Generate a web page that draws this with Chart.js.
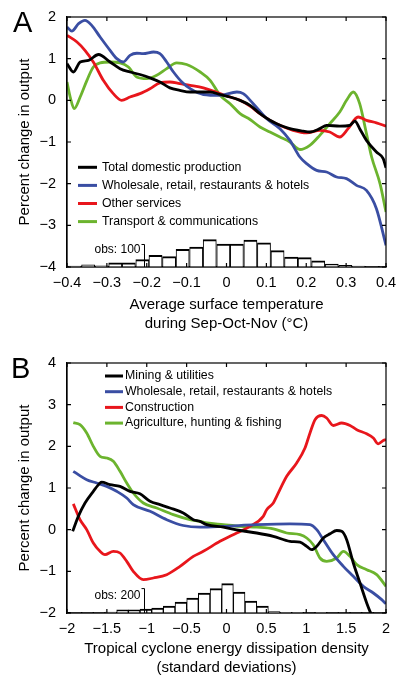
<!DOCTYPE html>
<html><head><meta charset="utf-8">
<script src="https://cdn.jsdelivr.net/npm/chart.js@4.4.1/dist/chart.umd.min.js"></script>
<style>
html,body{margin:0;padding:0;background:#fff;}
#wrap{position:relative;width:396px;height:680px;overflow:hidden;font-family:"Liberation Sans",Arial,Helvetica,sans-serif;}
canvas{position:absolute;left:0;}
#cA{top:0;} #cB{top:340px;}
.lbl{position:absolute;font-size:29px;line-height:29px;color:#000;}
</style></head><body>
<div id="wrap">
<canvas id="cA" width="396" height="340"></canvas>
<canvas id="cB" width="396" height="340"></canvas>
<div class="lbl" style="left:13px;top:8px">A</div>
<div class="lbl" style="left:11px;top:354px">B</div>
</div>
<script>
// ---------------- Panel A data (x: temperature anomaly, °C; y: % change) ----------------
const A_TOTAL_X = [-0.4,-0.384,-0.367,-0.346,-0.321,-0.292,-0.267,-0.242,-0.217,-0.192,-0.167,-0.142,-0.117,-0.091,-0.066,-0.041,-0.016,0.009,0.034,0.059,0.084,0.109,0.126,0.159,0.192,0.209,0.234,0.251,0.284,0.309,0.322,0.334,0.351,0.376,0.393,0.4];
const A_TOTAL_Y = [0.88,0.68,0.92,0.96,1.10,0.92,0.76,0.68,0.62,0.54,0.44,0.30,0.24,0.20,0.20,0.20,0.14,0.08,0.0,-0.12,-0.32,-0.48,-0.56,-0.68,-0.74,-0.76,-0.68,-0.60,-0.62,-0.60,-0.50,-0.68,-0.96,-1.24,-1.40,-1.62];

const A_WHOLE_X = [-0.4,-0.388,-0.371,-0.355,-0.338,-0.317,-0.292,-0.275,-0.259,-0.242,-0.225,-0.209,-0.183,-0.167,-0.150,-0.133,-0.112,-0.091,-0.058,-0.016,0.026,0.042,0.067,0.101,0.134,0.159,0.184,0.201,0.226,0.251,0.276,0.301,0.326,0.351,0.376,0.4];
const A_WHOLE_Y = [1.76,1.66,1.84,1.92,1.80,1.52,1.20,1.00,0.92,1.08,1.13,1.12,1.16,1.12,0.92,0.68,0.44,0.28,0.14,0.12,0.20,0.16,-0.08,-0.44,-0.68,-0.96,-1.36,-1.52,-1.68,-1.72,-1.84,-1.88,-2.04,-2.16,-2.60,-3.48];

const A_OTHER_X = [-0.4,-0.375,-0.355,-0.334,-0.309,-0.284,-0.263,-0.242,-0.217,-0.192,-0.167,-0.142,-0.117,-0.091,-0.058,-0.033,-0.016,0.009,0.034,0.059,0.084,0.109,0.134,0.167,0.201,0.234,0.259,0.284,0.305,0.330,0.351,0.376,0.4];
const A_OTHER_Y = [1.56,1.40,1.20,0.92,0.48,0.16,0.0,0.08,0.16,0.28,0.42,0.44,0.40,0.36,0.30,0.22,0.16,0.08,0.0,-0.14,-0.32,-0.48,-0.60,-0.72,-0.78,-0.72,-0.76,-0.88,-0.68,-0.40,-0.48,-0.54,-0.62];

const A_TRANS_X = [-0.4,-0.392,-0.382,-0.367,-0.350,-0.334,-0.317,-0.292,-0.267,-0.246,-0.225,-0.2,-0.175,-0.150,-0.125,-0.1,-0.066,-0.041,-0.016,0.009,0.034,0.059,0.084,0.109,0.134,0.159,0.184,0.209,0.234,0.259,0.284,0.301,0.318,0.334,0.351,0.364,0.385,0.4];
const A_TRANS_Y = [0.44,0.08,-0.20,0.08,0.48,0.80,0.90,0.92,0.90,0.80,0.56,0.52,0.60,0.76,0.90,0.86,0.68,0.48,0.12,-0.08,-0.32,-0.46,-0.64,-0.76,-0.88,-1.00,-1.18,-1.08,-0.84,-0.56,-0.28,0.0,0.20,-0.08,-0.80,-1.36,-2.00,-2.68];

// histogram of observations (bin centres, counts)
const A_HIST_X = [-0.381,-0.347,-0.313,-0.279,-0.245,-0.211,-0.178,-0.144,-0.110,-0.076,-0.042,-0.008,0.026,0.060,0.094,0.128,0.162,0.196,0.230,0.264,0.298,0.331,0.365,0.399];
const A_HIST_N = [4,10,5,18,18,33,52,46,78,89,122,102,102,120,107,73,44,42,27,13,7,4,2,2];
const A_OBS_X = -0.207, A_OBS_N = 100;

// ---------------- Panel B data (x: cyclone energy, s.d.; y: % change) ----------------
const B_MINING_X = [-1.929,-1.858,-1.774,-1.670,-1.586,-1.565,-1.461,-1.335,-1.210,-1.085,-0.959,-0.834,-0.708,-0.542,-0.416,-0.332,-0.248,-0.040,0.169,0.379,0.587,0.796,0.922,1.006,1.068,1.131,1.214,1.298,1.382,1.444,1.507,1.590,1.674,1.758,1.799,1.815];
const B_MINING_Y = [-0.04,0.32,0.64,0.92,1.12,1.14,1.08,1.04,0.92,0.86,0.68,0.60,0.52,0.40,0.24,0.20,0.12,0.06,-0.02,-0.08,-0.16,-0.28,-0.30,-0.40,-0.48,-0.40,-0.20,-0.10,-0.02,-0.04,-0.24,-0.80,-1.28,-1.76,-1.96,-2.02];

const B_WHOLE_X = [-1.921,-1.858,-1.753,-1.628,-1.502,-1.377,-1.251,-1.169,-0.959,-0.750,-0.542,-0.332,-0.040,0.379,0.796,1.047,1.131,1.214,1.339,1.465,1.590,1.715,1.841,1.946,2.0];
const B_WHOLE_Y = [1.40,1.32,1.20,1.12,1.04,0.92,0.76,0.60,0.44,0.24,0.10,0.06,0.08,0.12,0.14,0.12,0.0,-0.24,-0.60,-0.88,-1.12,-1.36,-1.52,-1.68,-1.78];

const B_CONSTR_X = [-1.921,-1.837,-1.753,-1.670,-1.586,-1.524,-1.419,-1.335,-1.251,-1.169,-1.043,-0.918,-0.750,-0.583,-0.416,-0.291,-0.082,0.128,0.295,0.461,0.504,0.587,0.629,0.755,0.880,0.984,1.047,1.110,1.194,1.256,1.339,1.444,1.549,1.633,1.758,1.841,1.903,1.966,2.0];
const B_CONSTR_Y = [0.62,0.24,0.0,-0.32,-0.52,-0.60,-0.52,-0.56,-0.76,-1.00,-1.20,-1.16,-1.08,-0.88,-0.64,-0.52,-0.28,-0.08,0.08,0.32,0.48,0.64,0.80,1.28,1.60,1.96,2.32,2.64,2.74,2.68,2.50,2.56,2.50,2.40,2.30,2.20,2.06,2.14,2.16];

const B_AGRI_X = [-1.921,-1.837,-1.753,-1.670,-1.586,-1.502,-1.419,-1.335,-1.251,-1.169,-1.043,-0.875,-0.667,-0.458,-0.332,-0.248,-0.040,0.169,0.379,0.587,0.755,0.922,1.006,1.088,1.172,1.256,1.382,1.465,1.549,1.633,1.758,1.883,2.0];
const B_AGRI_Y = [2.57,2.52,2.32,2.00,1.76,1.72,1.64,1.40,1.12,0.88,0.64,0.52,0.36,0.24,0.20,0.16,0.12,0.08,0.06,0.02,-0.08,-0.12,-0.20,-0.36,-0.68,-0.76,-0.68,-0.52,-0.64,-0.84,-0.96,-1.08,-1.36];

const B_HIST_X = [-1.889,-1.743,-1.597,-1.450,-1.304,-1.158,-1.011,-0.865,-0.719,-0.572,-0.426,-0.280,-0.133,0.013,0.159,0.306,0.452,0.598,0.745,0.891,1.037,1.184,1.330,1.476,1.623,1.769,1.915];
const B_HIST_N = [4,4,4,8,25,25,33,41,57,90,123,164,200,241,172,98,57,12,6,5,4,6,4,4,3,3,3];
const B_OBS_X = -1.034, B_OBS_N = 200;

const LABELS_A = ['Total domestic production','Wholesale, retail, restaurants & hotels','Other services','Transport & communications'];
const LABELS_B = ['Mining & utilities','Wholesale, retail, restaurants & hotels','Construction','Agriculture, hunting & fishing'];
const X_TITLE_A = ['Average surface temperature','during Sep-Oct-Nov (\u00B0C)'];
const X_TITLE_B = ['Tropical cyclone energy dissipation density','(standard deviations)'];
const Y_TITLE = 'Percent change in output';

// ---------------- drawing ----------------
const FONT = '"Liberation Sans", Arial, Helvetica, sans-serif';
const COL = {black:'#000000', blue:'#3a4ea3', red:'#e8161c', green:'#6cb42e'};
const pts = (xs, ys) => xs.map((x, i) => ({x: x, y: ys[i]}));
const fmt = v => {
  if (Math.abs(v) < 1e-9) return '0';
  const a = Math.abs(v);
  const s = (Math.abs(a - Math.round(a)) < 1e-9) ? String(Math.round(a)) : a.toFixed(1);
  return (v < 0 ? '\u2212' : '') + s;
};

const framePlugin = {
  id: 'frameTicks',
  afterDatasetsDraw(chart) {
    const {ctx, chartArea: {left, right, top, bottom}, scales: {x, y}} = chart;
    ctx.save();
    ctx.strokeStyle = '#000'; ctx.lineWidth = 1.2;
    ctx.strokeRect(left, top, right - left, bottom - top);
    const L = 4;
    ctx.beginPath();
    x.ticks.forEach(t => { const p = x.getPixelForValue(t.value); ctx.moveTo(p, bottom); ctx.lineTo(p, bottom - L); ctx.moveTo(p, top); ctx.lineTo(p, top + L); });
    y.ticks.forEach(t => { const p = y.getPixelForValue(t.value); ctx.moveTo(left, p); ctx.lineTo(left + L, p); ctx.moveTo(right, p); ctx.lineTo(right - L, p); });
    ctx.stroke();
    ctx.restore();
  }
};

const obsPlugin = {
  id: 'obsBar',
  afterDatasetsDraw(chart, args, o) {
    const {ctx} = chart; const xs = chart.scales.x, hs = chart.scales.yh;
    const px = Math.round(xs.getPixelForValue(o.x)) + 0.5;
    const y0 = hs.getPixelForValue(0), y1 = hs.getPixelForValue(o.count);
    ctx.save();
    ctx.strokeStyle = '#000'; ctx.lineWidth = 1;
    ctx.beginPath(); ctx.moveTo(px, y0); ctx.lineTo(px, y1); ctx.lineTo(px - 3, y1); ctx.stroke();
    ctx.fillStyle = '#000'; ctx.font = '12px ' + FONT; ctx.textAlign = 'right'; ctx.textBaseline = 'middle';
    ctx.fillText('obs: ' + o.count, px - 4, y1 + o.dy);
    ctx.restore();
  }
};

const legendPlugin = {
  id: 'insideLegend',
  afterDraw(chart, args, o) {
    const {ctx, chartArea} = chart;
    const ds = chart.data.datasets.filter(d => d.inLegend);
    ctx.save();
    ctx.font = o.size + 'px ' + FONT;
    ctx.textBaseline = 'middle'; ctx.textAlign = 'left'; ctx.fillStyle = '#000';
    ds.forEach((d, i) => {
      const y = chartArea.top + o.top + i * o.step;
      const x0 = chartArea.left + o.left;
      ctx.strokeStyle = d.borderColor; ctx.lineWidth = 3; ctx.lineCap = 'butt';
      ctx.beginPath(); ctx.moveTo(x0, y); ctx.lineTo(x0 + o.len, y); ctx.stroke();
      ctx.fillText(d.label, x0 + o.len + o.gap, y);
    });
    ctx.restore();
  }
};

function lineDs(label, data, color) {
  return {type: 'line', label: label, data: data, borderColor: color, backgroundColor: color,
    borderWidth: 2.8, pointRadius: 0, fill: false, cubicInterpolationMode: 'monotone',
    yAxisID: 'y', order: 1, inLegend: true};
}
function histDs(data) {
  return {type: 'bar', label: 'obs', data: data, yAxisID: 'yh', backgroundColor: '#ffffff',
    borderColor: '#000000', borderWidth: {top: 2, left: 1, right: 1, bottom: 0}, borderSkipped: false,
    barPercentage: 1, categoryPercentage: 1, order: 10, inLegend: false};
}

function makeChart(id, cfg) {
  return new Chart(document.getElementById(id), {
    type: 'line',
    data: {datasets: cfg.datasets},
    options: {
      responsive: false, animation: false, devicePixelRatio: 1,
      layout: {padding: {left: 0, right: 10, top: cfg.padTop, bottom: 0}},
      plugins: {
        legend: {display: false}, tooltip: {enabled: false},
        insideLegend: cfg.legend,
        obsBar: cfg.obs
      },
      scales: {
        x: {type: 'linear', min: cfg.xmin, max: cfg.xmax, offset: false,
          grid: {display: false, drawTicks: false}, border: {display: true, color: '#000', width: 1.2},
          ticks: {stepSize: cfg.xstep, padding: 7, color: '#000', font: {family: FONT, size: 14.5}, maxRotation: 0, autoSkip: false, callback: v => fmt(v)},
          title: {display: true, text: cfg.xtitle, color: '#000', font: {family: FONT, size: 15, lineHeight: 1.25}, padding: {top: 0, bottom: cfg.xtPad}},
          afterFit(s) { s.height = cfg.xh; s.paddingLeft = 0; s.paddingRight = 0; }
        },
        y: {type: 'linear', min: cfg.ymin, max: cfg.ymax,
          grid: {display: false, drawTicks: false}, border: {display: true, color: '#000', width: 1.2},
          ticks: {stepSize: 1, padding: 11, color: '#000', font: {family: FONT, size: 14.5}, callback: v => fmt(v)},
          title: {display: true, text: Y_TITLE, color: '#000', font: {family: FONT, size: 15, lineHeight: 1.25}, padding: {top: 15, bottom: 0}},
          afterFit(s) { s.width = 67; s.paddingTop = 0; s.paddingBottom = 0; }
        },
        yh: {type: 'linear', display: false, min: 0, max: cfg.hmax}
      }
    },
    plugins: [framePlugin, obsPlugin, legendPlugin]
  });
}

makeChart('cA', {
  datasets: [
    lineDs(LABELS_A[0], pts(A_TOTAL_X, A_TOTAL_Y), COL.black),
    lineDs(LABELS_A[1], pts(A_WHOLE_X, A_WHOLE_Y), COL.blue),
    lineDs(LABELS_A[2], pts(A_OTHER_X, A_OTHER_Y), COL.red),
    lineDs(LABELS_A[3], pts(A_TRANS_X, A_TRANS_Y), COL.green),
    histDs(pts(A_HIST_X, A_HIST_N))
  ],
  padTop: 17, xh: 73, xtPad: 7,
  xmin: -0.4, xmax: 0.4, xstep: 0.1, ymin: -4, ymax: 2, hmax: 1111,
  xtitle: X_TITLE_A,
  legend: {left: 11, top: 150.3, step: 18.1, len: 19, gap: 5, size: 12.3},
  obs: {x: A_OBS_X, count: A_OBS_N, dy: 5}
});

makeChart('cB', {
  datasets: [
    lineDs(LABELS_B[0], pts(B_MINING_X, B_MINING_Y), COL.black),
    lineDs(LABELS_B[1], pts(B_WHOLE_X, B_WHOLE_Y), COL.blue),
    lineDs(LABELS_B[2], pts(B_CONSTR_X, B_CONSTR_Y), COL.red),
    lineDs(LABELS_B[3], pts(B_AGRI_X, B_AGRI_Y), COL.green),
    histDs(pts(B_HIST_X, B_HIST_N))
  ],
  padTop: 23, xh: 67, xtPad: 3,
  xmin: -2, xmax: 2, xstep: 0.5, ymin: -2, ymax: 4, hmax: 2049,
  xtitle: X_TITLE_B,
  legend: {left: 38, top: 13, step: 15.7, len: 18, gap: 2, size: 12.3},
  obs: {x: B_OBS_X, count: B_OBS_N, dy: 7}
});
</script>
</body></html>
